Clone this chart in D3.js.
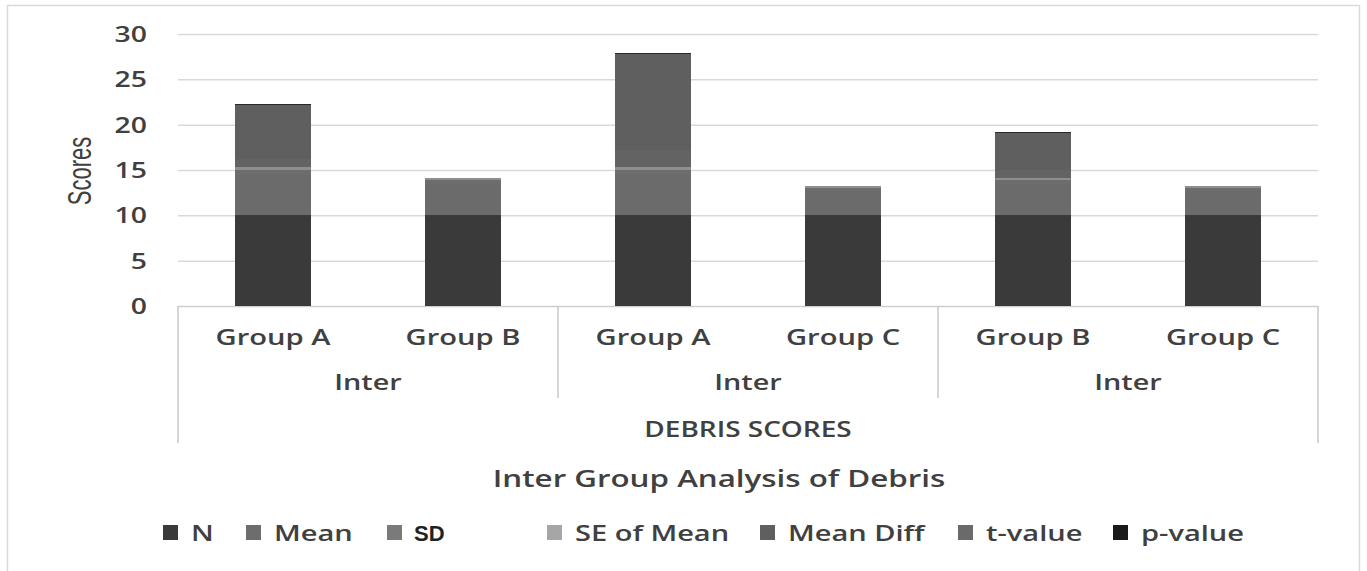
<!DOCTYPE html>
<html><head><meta charset="utf-8">
<script src="https://cdn.jsdelivr.net/npm/d3@7"></script>
<style>body{margin:0;background:#fff;} svg{display:block;}</style>
</head><body>
<svg id="c" width="1367" height="571"></svg>
<script>
const categories = ["Group A","Group B","Group A","Group C","Group B","Group C"];
const superGroups = ["Inter","Inter","Inter"];
const axisGroupTitle = "DEBRIS SCORES";
const chartTitle = "Inter Group Analysis of Debris";
const yTitle = "Scores";
const yTicks = [0,5,10,15,20,25,30];
const seriesNames = ["N","Mean","SD","SE of Mean","Mean Diff","t-value","p-value"];
const N        = [10,10,10,10,10,10];
const Mean     = [4.4,3.5,4.4,2.7,3.5,2.7];
const SD       = [0.6,0.45,0.6,0.35,0.45,0.35];
const SEMean   = [0.32,0.21,0.32,0.18,0.21,0.18];
const MeanDiff = [0.9,0,1.9,0,0.8,0];
const tValue   = [6.0,0,10.6,0,4.1,0];
const pValue   = [0.08,0,0.1,0,0.1,0];
const seriesValues = [N,Mean,SD,SEMean,MeanDiff,tValue,pValue];
const barColors = ["#3a3a3a","#6b6b6b","#6d6d6d","#8e8e8e","#636363","#5f5f5f","#2a2a2a"];
const legendColors = ["#3a3a3a","#6d6d6d","#7a7a7a","#a6a6a6","#5f5f5f","#6a6a6a","#1a1a1a"];

const svg = d3.select("#c");
const SX = 1.35;
const FONT = "'Open Sans', sans-serif";
const TXT = "#404040";

function label(g, x, y, str, opts={}) {
  return g.append("text")
    .attr("transform", `translate(${x},${y}) scale(${opts.sx ?? SX},1)`)
    .attr("text-anchor", opts.anchor || "middle")
    .attr("font-family", opts.font || FONT)
    .attr("font-weight", opts.weight || 600)
    .attr("font-size", opts.size || 21)
    .attr("fill", opts.fill || TXT)
    .text(str);
}

// outer frame
svg.append("rect").attr("x",7.5).attr("y",5.5).attr("width",1352).attr("height",600)
  .attr("fill","none").attr("stroke","#d9d9d9").attr("stroke-width",1.5);

const x0 = 178, x1 = 1318;
const y = d3.scaleLinear().domain([0,30]).range([306,34]);
const x = d3.scaleBand().domain(d3.range(categories.length)).range([x0,x1])
  .paddingInner(0.6).paddingOuter(0.3);

// gridlines
const yAxis = d3.axisLeft(y).tickValues(yTicks).tickSize(-(x1-x0)).tickFormat("");
const ga = svg.append("g").attr("transform",`translate(${x0},0)`).call(yAxis);
ga.select(".domain").remove();
ga.selectAll(".tick line").attr("stroke","#d9d9d9").attr("stroke-width",1.5);
ga.selectAll(".tick").filter(d=>d===0).select("line").attr("stroke","#cfcfcf");

// tick labels
yTicks.forEach(v => label(svg, 147, y(v)+8, String(v), {anchor:"end", size:21}));

// y title
svg.append("text")
  .attr("transform", `translate(91,171) scale(1.5,1) rotate(-90)`)
  .attr("text-anchor","middle")
  .attr("font-family","'Liberation Sans', Arial, sans-serif")
  .attr("font-size",22).attr("fill",TXT)
  .text(yTitle);

// stacked bars
const rows = categories.map((c,i)=>{ const o={i}; seriesNames.forEach((s,k)=>o[s]=seriesValues[k][i]); return o; });
const stack = d3.stack().keys(seriesNames)(rows);
svg.append("g").attr("shape-rendering","crispEdges").selectAll("g").data(stack).join("g")
  .attr("fill",(d,k)=>barColors[k])
  .selectAll("rect").data(d=>d).join("rect")
  .attr("x",d=>x(d.data.i)).attr("width",x.bandwidth())
  .attr("y",d=>y(d[1])).attr("height",d=>Math.max(0,y(d[0])-y(d[1])));

// category separators
const step = x.step();
const sepG = svg.append("g").attr("stroke","#c9c9c9").attr("stroke-width",1.5);
[0,1,2,3].forEach(k=>{
  const xx = x0 + k*2*step;
  const outer = (k===0||k===3);
  sepG.append("line").attr("x1",xx).attr("x2",xx).attr("y1",306).attr("y2", outer?443:398);
});

// category labels
categories.forEach((c,i)=> label(svg, x(i)+x.bandwidth()/2, 345, c, {size:21.6}));
superGroups.forEach((s,k)=> label(svg, x0 + (k*2+1)*step, 390, s, {size:21.3}));
label(svg, (x0+x1)/2, 437, axisGroupTitle, {size:20.7});
label(svg, 719, 487, chartTitle, {size:23.2});

// legend
const legX = [163,246,387,547,760,958,1113];
const lg = svg.append("g");
seriesNames.forEach((s,k)=>{
  lg.append("rect").attr("x",legX[k]).attr("y",525).attr("width",15).attr("height",15).attr("fill",legendColors[k]);
  if (s==="SD") {
    label(lg, legX[k]+27, 541, s, {anchor:"start", sx:1, font:"'Liberation Sans', Arial, sans-serif", weight:700, size:22, fill:"#222"});
  } else {
    label(lg, legX[k]+28, 541, s, {anchor:"start", size:21.5});
  }
});
</script>
</body></html>
